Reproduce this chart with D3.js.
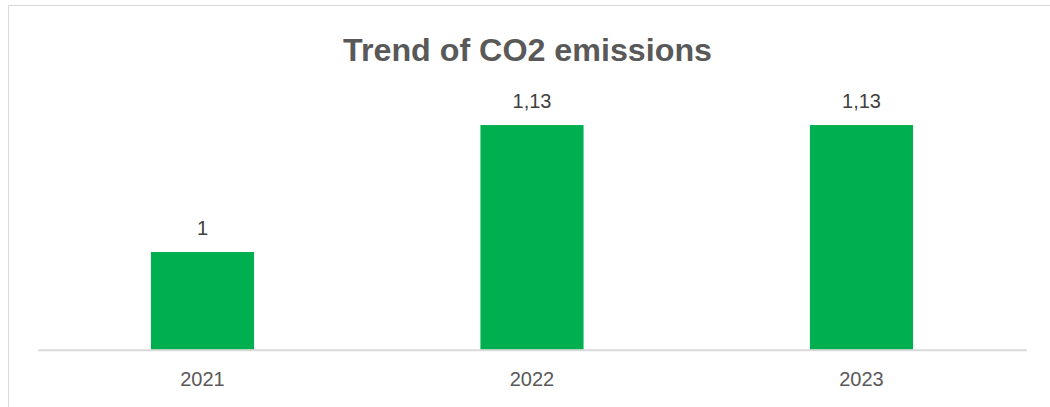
<!DOCTYPE html>
<html>
<head>
<meta charset="utf-8">
<script src="https://cdn.jsdelivr.net/npm/d3@7"></script>
<style>
  html, body { margin: 0; padding: 0; background: #fff; }
  svg { display: block; }
</style>
</head>
<body>
<svg id="chart" width="1050" height="407"></svg>
<script>
const title = "Trend of CO2 emissions";
const categories = ["2021", "2022", "2023"];
const values = [1, 1.13, 1.13];
const valueLabels = ["1", "1,13", "1,13"];
const yDomain = [0.9, 1.15];

const svg = d3.select("#chart");
const W = 1050, H = 407;

// chart border
svg.append("rect")
  .attr("x", 8.5).attr("y", 5.5)
  .attr("width", 1100).attr("height", 500)
  .attr("fill", "#fff").attr("stroke", "#d9d9d9").attr("stroke-width", 1);

const x = d3.scaleBand().domain(categories).range([37.75, 1026.25]).paddingInner(0.687).paddingOuter(0.3435);
const y = d3.scaleLinear().domain(yDomain).range([349.7, 105.5]);

// title
const t = svg.append("text")
  .attr("x", 527.5).attr("y", 61)
  .attr("text-anchor", "middle")
  .attr("font-family", "Liberation Sans, Arial, sans-serif")
  .attr("font-weight", "bold")
  .attr("font-size", 32)
  .attr("fill", "#595959")
  .text(title);
t.attr("textLength", 369).attr("lengthAdjust", "spacingAndGlyphs");

// bars
svg.append("g").selectAll("rect")
  .data(categories.map((c, i) => ({c, v: values[i], l: valueLabels[i]})))
  .join("rect")
  .attr("x", d => x(d.c))
  .attr("width", x.bandwidth())
  .attr("y", d => y(d.v))
  .attr("height", d => y(yDomain[0]) - y(d.v))
  .attr("fill", "#00B050");

// value labels
svg.append("g").selectAll("text")
  .data(categories.map((c, i) => ({c, v: values[i], l: valueLabels[i]})))
  .join("text")
  .attr("x", d => x(d.c) + x.bandwidth() / 2)
  .attr("y", d => y(d.v) - 17)
  .attr("text-anchor", "middle")
  .attr("font-family", "Liberation Sans, Arial, sans-serif")
  .attr("font-size", 20)
  .attr("fill", "#404040")
  .text(d => d.l);

// x axis
const xAxis = svg.append("g")
  .attr("transform", `translate(0,${y(yDomain[0])})`)
  .call(d3.axisBottom(x).tickSize(0).tickPadding(22));
xAxis.select(".domain").attr("stroke", "#d9d9d9").attr("stroke-width", 2);
xAxis.selectAll("text")
  .attr("font-family", "Liberation Sans, Arial, sans-serif")
  .attr("font-size", 20)
  .attr("fill", "#595959");
</script>
</body>
</html>
